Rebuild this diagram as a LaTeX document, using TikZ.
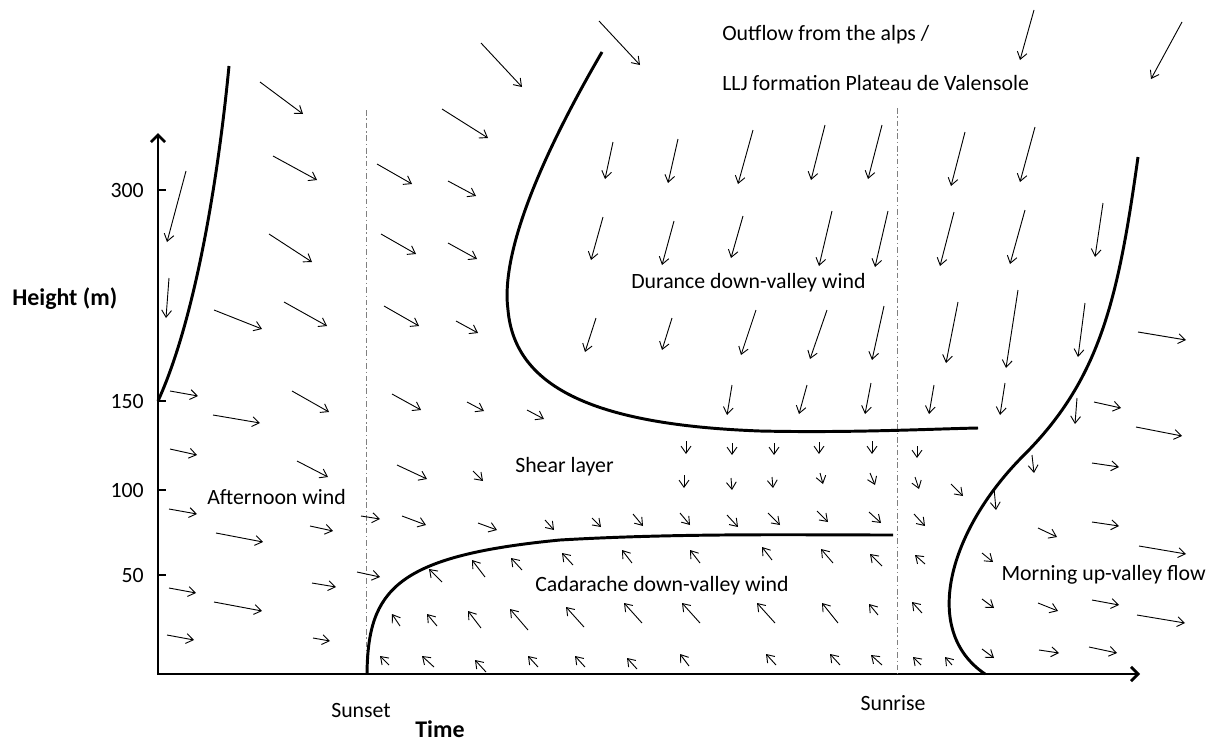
\documentclass[tikz,border=0pt]{standalone}
\usepackage{fontspec}
\setmainfont{Carlito}
\usetikzlibrary{arrows.meta}

\begin{document}
\begin{tikzpicture}[
  x=0.025cm, y=-0.025cm,
  wind/.style={-{Straight Barb[length=5pt,width=7pt]}, line width=0.65pt},
  front/.style={line width=2.1pt},
  axis/.style={{Straight Barb[length=5pt,width=10pt]}-{Straight Barb[length=5pt,width=10pt]}, line width=2pt},
  daydash/.style={gray, line width=0.6pt, dash pattern=on 4pt off 2pt on 1pt off 2pt},
  txt/.style={font=\fontsize{15.5}{18}\selectfont, inner sep=0pt},
  boldtxt/.style={font=\fontsize{17}{20}\selectfont\bfseries, inner sep=0pt}
]
\useasboundingbox (0,0) rectangle (1210,744);

% axes
\coordinate (ytop) at (158,133);
\coordinate (origin) at (158,674);
\coordinate (xend) at (1140,674);
\draw[axis] (ytop) -- (origin) -- (xend);
\foreach \h/\v in {190/300, 401/150, 490/100, 575/50} {
  \draw[line width=0.8pt] (158,\h) -- (166,\h);
  \node[txt, anchor=east] (tick\v) at (144,\h) {\v};
}
\node[boldtxt, anchor=west] (height) at (12,299) {Height (m)};
\node[boldtxt] (time) at (440,729) {Time};

% sunset / sunrise
\draw[daydash] (366,110) -- (366,674);
\draw[daydash] (897,108) -- (897,674);
\node[txt] (sunset) at (361,710) {Sunset};
\node[txt] (sunrise) at (893,703) {Sunrise};

% boundaries
\draw[front] (158,401) .. controls (195,320) and (218,180) .. (229,66);
\draw[front] (602,52) .. controls (545,150) and (500,250) .. (508,310)
  .. controls (515,390) and (600,425) .. (760,431)
  .. controls (850,433) and (930,429) .. (978,428);
\draw[front] (367,674) .. controls (368,590) and (395,556) .. (560,540)
  .. controls (680,533) and (800,535) .. (893,535);
\draw[front] (1138,157) .. controls (1118,300) and (1100,380) .. (1022,457)
  .. controls (950,530) and (920,630) .. (985,674);

% outflow
\foreach \xa/\ya/\xb/\yb in {599/21/640/65, 1034/10/1020/60, 1182/22/1151/79}
  \draw[wind] (\xa,\ya) -- (\xb,\yb);

% afternoon wind
\foreach \xa/\ya/\xb/\yb in {260/82/303/114, 481/43/522/87, 442/109/488/138, 273/156/317/180,
  377/164/412/184, 448/181/476/196, 186/171/167/242, 269/234/312/262, 381/234/416/254,
  448/243/477/259, 169/278/166/318, 214/310/262/329, 284/302/327/326, 384/306/419/326,
  456/321/478/333, 170/391/198/396, 292/391/329/412, 213/415/260/423, 392/394/421/410,
  467/402/484/411, 527/410/544/419, 170/449/197/455, 297/461/328/477, 397/465/427/479,
  473/471/483/481, 169/509/197/514, 361/516/380/519, 402/516/426/525, 478/523/497/530,
  545/520/554/530, 592/518/601/527, 310/526/333/531, 216/533/263/542, 169/588/196/593,
  312/583/336/587, 357/572/380/577, 214/602/262/611, 167/635/194/640, 313/638/330/641}
  \draw[wind] (\xa,\ya) -- (\xb,\yb);

% durance down-valley wind
\foreach \xa/\ya/\xb/\yb in {613/142/605/179, 678/139/668/183, 753/130/738/184, 825/125/811/180,
  882/125/868/179, 965/132/951/186, 1035/127/1020/182,
  603/217/591/260, 674/221/662/265, 743/216/731/258, 832/211/819/266, 888/211/875/267,
  954/212/940/266, 1025/210/1010/264, 1103/203/1095/257,
  596/318/585/352, 672/318/662/350, 756/310/741/355, 827/310/810/359, 884/306/872/360,
  958/302/946/363, 1018/290/1006/368, 1085/303/1078/357,
  732/385/727/415, 807/385/799/414, 871/383/865/414, 934/385/929/414, 1005/383/1000/415,
  1077/398/1075/424}
  \draw[wind] (\xa,\ya) -- (\xb,\yb);

% shear layer
\foreach \xa/\ya/\xb/\yb in {686/441/686/454, 732/443/732/455, 774/443/774/455, 819/442/819/454,
  872/441/872/454, 917/446/917/458, 684/475/684/488, 731/478/732/490, 772/477/773/488,
  820/473/823/484, 870/473/875/485, 915/477/919/489, 951/484/963/496, 1032/455/1034/473,
  994/488/996/510, 633/514/643/526, 680/513/690/525, 727/515/738/527, 768/513/780/525,
  817/511/828/522, 869/512/881/523, 914/514/925/526}
  \draw[wind] (\xa,\ya) -- (\xb,\yb);

% cadarache down-valley wind
\foreach \xa/\ya/\xb/\yb in {442/582/429/569, 485/577/472/560, 522/570/511/558, 573/565/562/553,
  632/563/622/550, 700/563/690/550, 772/560/762/547, 833/563/821/549, 882/566/870/554,
  925/564/915/555, 400/626/392/614, 437/626/427/614, 481/628/468/611, 528/630/510/609,
  584/627/566/607, 642/623/624/603, 700/623/682/603, 775/623/757/603, 838/623/822/603,
  878/615/869/604, 922/613/912/602, 389/665/380/656, 434/667/422/656, 486/672/475/660,
  538/667/528/656, 585/667/575/656, 637/669/627/658, 689/666/680/654, 776/665/766/654,
  840/665/830/654, 882/665/871/655, 921/665/913/657, 952/665/945/657}
  \draw[wind] (\xa,\ya) -- (\xb,\yb);

% morning up-valley flow
\foreach \xa/\ya/\xb/\yb in {1138/332/1186/340, 1094/402/1121/408, 1136/427/1182/436,
  1092/463/1119/467, 1038/528/1057/537, 1092/522/1119/526, 1139/546/1186/554,
  982/553/993/562, 982/599/994/608, 1038/603/1058/611, 1092/600/1119/605,
  1137/615/1185/623, 982/649/994/658, 1039/650/1059/653, 1089/647/1117/653}
  \draw[wind] (\xa,\ya) -- (\xb,\yb);

% region labels
\node[txt, anchor=west] (outflow) at (722,35) {Outflow from the alps /};
\node[txt, anchor=west] (llj) at (722,83) {LLJ formation Plateau de Valensole};
\node[txt, anchor=west] (durance) at (631,283) {Durance down-valley wind};
\node[txt, anchor=west] (shear) at (515,467) {Shear layer};
\node[txt, anchor=west] (afternoon) at (207,497) {Afternoon wind};
\node[txt, anchor=west] (cadarache) at (535,586) {Cadarache down-valley wind};
\node[txt, anchor=east] (morning) at (1206,575) {Morning up-valley flow};
\end{tikzpicture}
\end{document}
